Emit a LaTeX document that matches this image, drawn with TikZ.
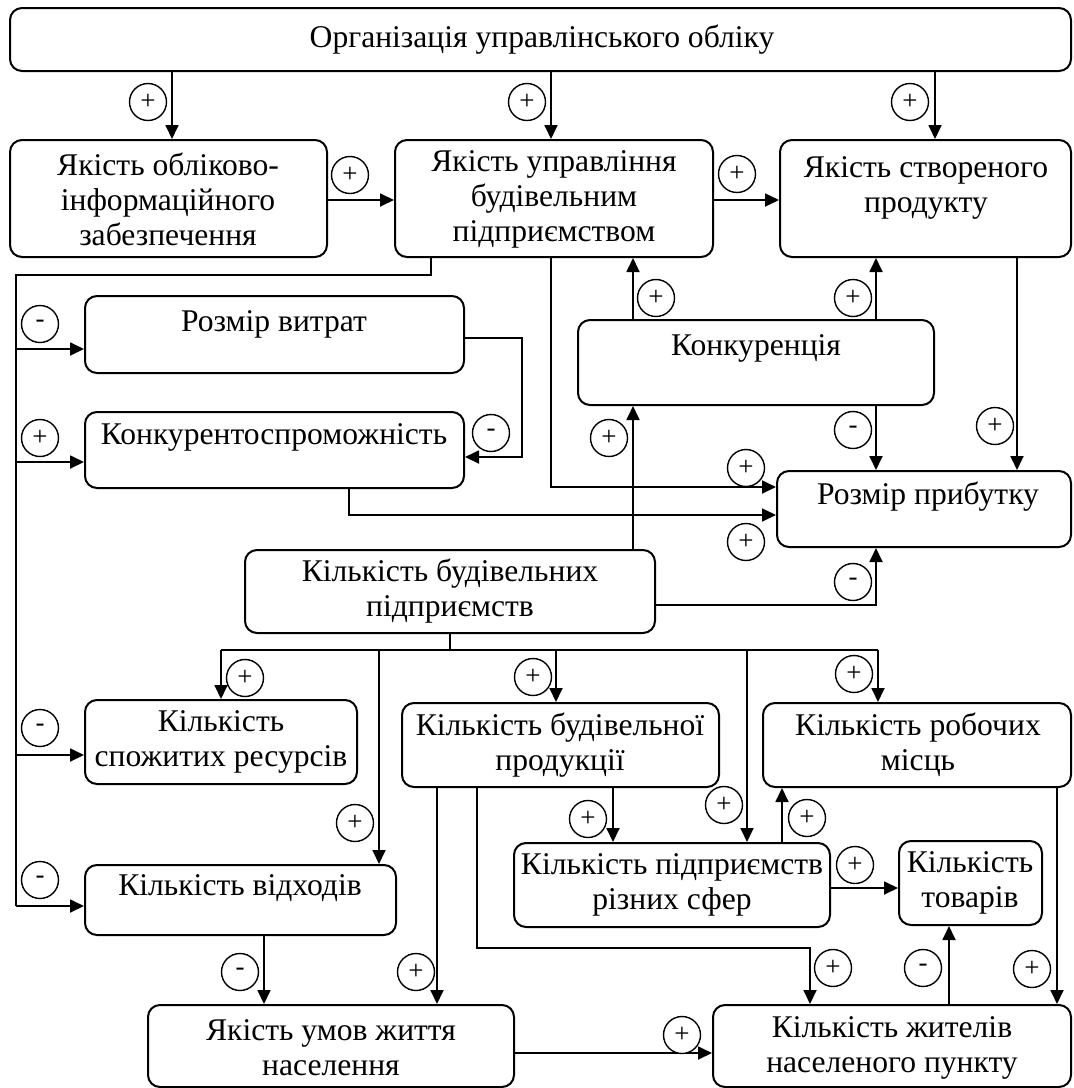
\documentclass[tikz,border=0pt]{standalone}
\usepackage{fontspec}
\setmainfont{Liberation Serif}
\usetikzlibrary{fit,arrows.meta}
\newcommand\mainsz{\fontsize{15.8}{17.5}\selectfont}
\begin{document}
\begin{tikzpicture}[x=0.5pt,y=-0.5pt,
  box/.style={draw, line width=1pt, rounded corners=6pt, inner sep=0pt},
  txt/.style={align=center, font=\mainsz, inner sep=0pt},
  sgn/.style={draw, circle, line width=0.7pt, minimum size=18.5pt, inner sep=0pt, fill=white, font=\fontsize{13.5}{13.5}\selectfont},
  ln/.style={line width=0.9pt},
  arr/.style={ln, -{Triangle[length=7pt,width=6.5pt]}}]
\useasboundingbox (0,0) rectangle (1073,1088);
% lanes
\foreach \x in {16,172,221,264,349,379,431,437,450,477,522,551,556,613,633,747,782,810,876,878,935,949,1017,1057}
  \coordinate (v\x) at (\x,0);
\foreach \y in {200,275,338,349,457,462,487,515,605,650,755,888,906,948,1053}
  \coordinate (h\y) at (0,\y);
% boxes
\node[box, fit={(10,8) (1071,71)}] (top) {};
\node[box, fit={(10,140) (327,257)}] (A) {};
\node[box, fit={(395,140) (713,257)}] (B) {};
\node[box, fit={(780,140) (1071,257)}] (C) {};
\node[box, fit={(85,296) (464,373)}] (RV) {};
\node[box, fit={(85,412) (464,488)}] (KS) {};
\node[box, fit={(578,320) (934,405)}] (KN) {};
\node[box, fit={(777,471) (1071,547)}] (RP) {};
\node[box, fit={(245,550) (655,633)}] (KB) {};
\node[box, fit={(85,700) (357,784)}] (SR) {};
\node[box, fit={(85,865) (396,935)}] (VD) {};
\node[box, fit={(402,703) (719,787)}] (BP) {};
\node[box, fit={(763,703) (1071,787)}] (RM) {};
\node[box, fit={(514,843) (830,927)}] (RS) {};
\node[box, fit={(899,841) (1042,925)}] (TV) {};
\node[box, fit={(148,1005) (514,1087)}] (YU) {};
\node[box, fit={(713,1005) (1071,1087)}] (ZH) {};
% texts
\node[txt] (topT) at (542,40) {Організація управлінського обліку};
\node[txt] (AT) at (168,199) {Якість обліково-\\інформаційного\\забезпечення};
\node[txt] (BT) at (554,199) {Якість управління\\будівельним\\підприємством};
\node[txt] (CT) at (926,188) {Якість створеного\\продукту};
\node[txt] (RVT) at (274,324) {Розмір витрат};
\node[txt] (KST) at (274,437) {Конкурентоспроможність};
\node[txt] (KNT) at (756,348) {Конкуренція};
\node[txt] (RPT) at (928,497) {Розмір прибутку};
\node[txt] (KBT) at (450,591) {Кількість будівельних\\підприємств};
\node[txt] (SRT) at (221,742) {Кількість\\спожитих ресурсів};
\node[txt] (VDT) at (240,888) {Кількість відходів};
\node[txt] (BPT) at (560,745) {Кількість будівельної\\продукції};
\node[txt] (RMT) at (918,745) {Кількість робочих\\місць};
\node[txt] (RST) at (672,885) {Кількість підприємств\\різних сфер};
\node[txt] (TVT) at (970,883) {Кількість\\товарів};
\node[txt] (YUT) at (331,1048) {Якість умов життя\\населення};
\node[txt] (ZHT) at (892,1048) {Кількість жителів\\населеного пункту};
% connectors
\draw[arr] (top.south -| v172) -- (A.north -| v172);
\draw[arr] (top.south -| v551) -- (B.north -| v551);
\draw[arr] (top.south -| v935) -- (C.north -| v935);
\draw[arr] (A.east |- h200) -- (B.west |- h200);
\draw[arr] (B.east |- h200) -- (C.west |- h200);
\draw[ln] (B.south -| v431) |- (v16 |- h275) -- (v16 |- h906);
\draw[arr] (v16 |- h349) -- (RV.west |- h349);
\draw[arr] (v16 |- h462) -- (KS.west |- h462);
\draw[arr] (v16 |- h755) -- (SR.west |- h755);
\draw[arr] (v16 |- h906) -- (VD.west |- h906);
\draw[arr] (RV.east |- h338) -| (v522 |- h457) -- (KS.east |- h457);
\draw[arr] (B.south -| v551) |- (RP.west |- h487);
\draw[arr] (KS.south -| v349) |- (RP.west |- h515);
\draw[arr] (KN.north -| v633) -- (B.south -| v633);
\draw[arr] (KN.north -| v876) -- (C.south -| v876);
\draw[arr] (KN.south -| v876) -- (RP.north -| v876);
\draw[arr] (C.south -| v1017) -- (RP.north -| v1017);
\draw[arr] (KB.north -| v633) -- (KN.south -| v633);
\draw[arr] (KB.east |- h605) -| (RP.south -| v876);
\draw[ln] (KB.south -| v450) -- (v450 |- h650);
\draw[ln] (v221 |- h650) -- (v878 |- h650);
\draw[arr] (v221 |- h650) -- (SR.north -| v221);
\draw[arr] (v379 |- h650) -- (VD.north -| v379);
\draw[arr] (v556 |- h650) -- (BP.north -| v556);
\draw[arr] (v747 |- h650) -- (RS.north -| v747);
\draw[arr] (v878 |- h650) -- (RM.north -| v878);
\draw[arr] (VD.south -| v264) -- (YU.north -| v264);
\draw[arr] (BP.south -| v437) -- (YU.north -| v437);
\draw[arr] (BP.south -| v477) |- (v810 |- h948) -- (ZH.north -| v810);
\draw[arr] (BP.south -| v613) -- (RS.north -| v613);
\draw[arr] (RS.north -| v782) -- (RM.south -| v782);
\draw[arr] (RS.east |- h888) -- (TV.west |- h888);
\draw[arr] (ZH.north -| v949) -- (TV.south -| v949);
\draw[arr] (RM.south -| v1057) -- (ZH.north -| v1057);
\draw[arr] (YU.east |- h1053) -- (ZH.west |- h1053);
% signs
\node[sgn] (s1) at (148,102) {+};
\node[sgn] (s2) at (527,102) {+};
\node[sgn] (s3) at (910,102) {+};
\node[sgn] (s4) at (350,175) {+};
\node[sgn] (s5) at (737,174) {+};
\node[sgn] (s6) at (40,324) {-};
\node[sgn] (s7) at (40,438) {+};
\node[sgn] (s8) at (491,433) {-};
\node[sgn] (s9) at (656,298) {+};
\node[sgn] (s10) at (853,298) {+};
\node[sgn] (s11) at (609,438) {+};
\node[sgn] (s12) at (853,430) {-};
\node[sgn] (s13) at (995,426) {+};
\node[sgn] (s14) at (746,468) {+};
\node[sgn] (s15) at (746,542) {+};
\node[sgn] (s16) at (853,582) {-};
\node[sgn] (s17) at (245,678) {+};
\node[sgn] (s18) at (355,823) {+};
\node[sgn] (s19) at (40,728) {-};
\node[sgn] (s20) at (40,880) {-};
\node[sgn] (s21) at (240,972) {-};
\node[sgn] (s22) at (416,972) {+};
\node[sgn] (s23) at (533,677) {+};
\node[sgn] (s24) at (724,805) {+};
\node[sgn] (s25) at (854,674) {+};
\node[sgn] (s26) at (588,819) {+};
\node[sgn] (s27) at (807,818) {+};
\node[sgn] (s28) at (855,865) {+};
\node[sgn] (s29) at (833,968) {+};
\node[sgn] (s30) at (923,968) {-};
\node[sgn] (s31) at (1032,969) {+};
\node[sgn] (s32) at (682,1035) {+};
\end{tikzpicture}
\end{document}
